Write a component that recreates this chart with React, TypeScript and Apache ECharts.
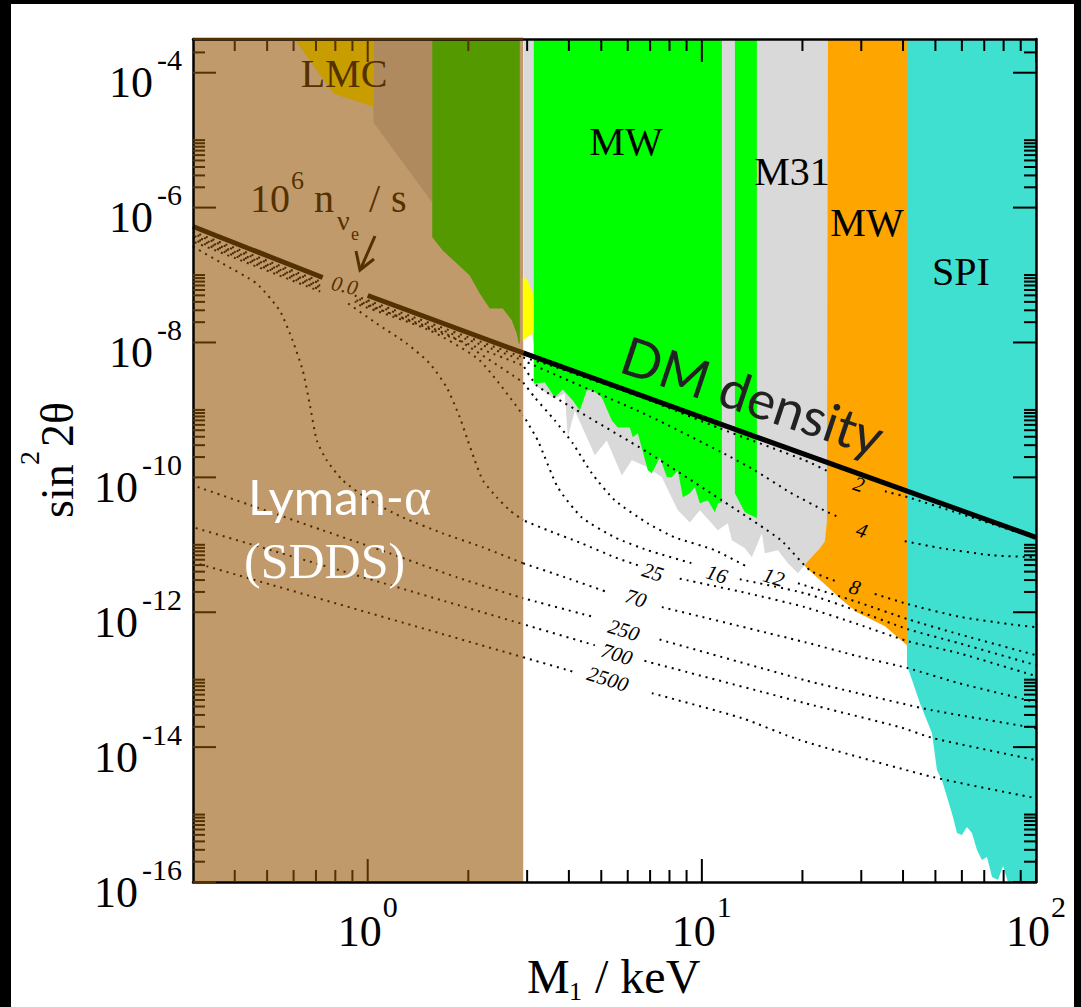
import React, { useEffect, useRef } from "react";
import * as echarts from "echarts";

const SERIF = '"Liberation Serif", "Times New Roman", serif';
const SANS = 'Lato, "Open Sans", sans-serif';

const BROWN = "#543100";
const DOT_BROWN = "#4a2a00";
const C_TAN = "#c19a6b";
const C_TAN_DARK = "#b08a5f";
const C_GOLD = "#c79d00";
const C_OLIVE = "#559900";
const C_YELLOW = "#ffff00";
const C_LIME = "#00ff00";
const C_GREY = "#d9d9d9";
const C_ORANGE = "#ffa500";
const C_TURQ = "#40e0d0";

// axis ranges (M1 in keV, sin^2 2theta)
const X_RANGE = [0.3, 100];
const Y_RANGE = [1e-16, 3.162e-4];
const LYA_EDGE = 2.92;

const X_LABEL_EXPONENTS = [0, 1, 2];
const Y_LABEL_EXPONENTS = [-16, -14, -12, -10, -8, -6, -4];
const X_MAJOR_TICKS = [1, 10, 100];
const X_MINOR_TICKS = [0.4, 0.5, 0.6, 0.7, 0.8, 0.9, 2, 3, 4, 5, 6, 7, 8, 9, 20, 30, 40, 50, 60, 70, 80, 90];
const Y_MAJOR_TICKS = [1e-16, 1e-14, 1e-12, 1e-10, 1e-8, 1e-6, 1e-4];
const Y_MINOR_FACTORS = [2, 3, 4, 5, 6, 7, 8, 9, 10];

// excluded / constrained regions: [M1 keV, sin^2 2theta]
const LYA_REGION = [[0.3, 1e-16], [2.92, 1e-16], [2.92, 3.162e-4], [0.3, 3.162e-4]];
const LYA_DARK_REGION = [[1.04, 3.162e-4], [1.56, 3.162e-4], [1.56, 1.19e-6], [1.04, 1.82e-5]];
const LMC_REGION = [[0.604, 3.162e-4], [1.04, 3.162e-4], [1.04, 3.13e-5], [0.791, 4.89e-5]];
const OLIVE_REGION = [
  [1.56, 3.162e-4], [2.852, 3.162e-4], [2.852, 9.66e-9], [2.832, 9.66e-9], [2.793, 1.36e-8],
  [2.699, 2.12e-8], [2.537, 3.19e-8], [2.319, 3.19e-8], [2.164, 5.32e-8], [2.02, 9.84e-8],
  [1.848, 1.48e-7], [1.677, 2.31e-7], [1.56, 3.63e-7],
];
const YELLOW_REGION = [[2.911, 8.87e-8], [2.992, 8.87e-8], [3.141, 4.97e-8], [3.141, 1.41e-8], [2.911, 1.07e-8]];
const GREY_REGION = [
  [2.93, 3.162e-4], [2.93, 8.87e-8], [3.141, 9.04e-9], [3.141, 2.39e-9], [3.63, 1.48e-9],
  [3.889, 1.75e-9], [3.97, 3.92e-10], [4.167, 9.84e-10], [4.782, 2.12e-10], [5.195, 3.53e-10],
  [5.761, 1.07e-10], [6.172, 1.79e-10], [6.892, 1.41e-10], [7.591, 1.0e-10], [8.476, 3.24e-11],
  [9.207, 2.15e-11], [9.863, 3.24e-11], [11.17, 1.64e-11], [11.96, 2.08e-11], [12.3, 1.17e-11],
  [13.45, 8.87e-12], [14.11, 6.53e-12], [15.12, 1.48e-11], [15.44, 7.48e-12], [16.89, 8.3e-12],
  [18.09, 5.32e-12], [19.39, 3.79e-12], [20.63, 5.51e-12], [22.56, 8.87e-12], [23.35, 1.13e-11],
  [23.67, 2.23e-11], [23.84, 3.162e-4],
];
const MW_REGION_A = [
  [3.141, 3.162e-4], [3.141, 2.47e-9], [3.388, 2.55e-9], [3.63, 1.53e-9], [3.835, 2.01e-9],
  [4.11, 1.38e-9], [4.313, 9.84e-10], [4.525, 1.95e-9], [4.717, 1.95e-9], [5.02, 1.53e-9],
  [5.377, 6.98e-10], [5.605, 5.51e-10], [6.087, 5.51e-10], [6.214, 3.92e-10], [6.432, 4.49e-10],
  [6.892, 1.27e-10], [7.085, 1.15e-10], [7.487, 1.98e-10], [7.856, 1.0e-10], [8.132, 1.0e-10],
  [8.476, 1.27e-10], [8.772, 5.06e-11], [9.207, 5.79e-11], [9.528, 7.11e-11], [9.863, 4.12e-11],
  [10.42, 4.56e-11], [10.94, 3.03e-11], [11.17, 4.12e-11], [11.48, 4.27e-11], [11.48, 3.162e-4],
];
const MW_REGION_B = [[12.56, 3.162e-4], [12.56, 5.79e-11], [13.45, 3.03e-11], [14.61, 2.47e-11], [14.61, 3.162e-4]];
const MW_ORANGE_REGION = [
  [15.12, 3.162e-4], [41.1, 3.162e-4], [41.1, 3.24e-13], [35.31, 6.21e-13], [29.12, 1.0e-12],
  [26.08, 1.56e-12], [23.51, 2.51e-12], [20.63, 4.49e-12], [18.34, 8.3e-12], [15.12, 1.64e-11],
];
const SPI_REGION = [
  [41.1, 3.162e-4], [100, 3.162e-4], [100, 1e-16], [82.45, 1e-16], [79.67, 1.73e-16],
  [76.96, 1.07e-16], [73.85, 1.19e-16], [71.34, 2.34e-16], [68.92, 2.12e-16], [66.58, 2.98e-16],
  [64.31, 5.32e-16], [62.13, 6.53e-16], [60.0, 4.97e-16], [58.01, 5.32e-16], [56.43, 9.18e-16],
  [54.51, 1.64e-15], [52.31, 3.24e-15], [50.53, 4.56e-15], [48.83, 1.61e-14], [44.96, 4.49e-14],
  [41.1, 1.64e-13],
];

// DM density line (null = gap for the "0.0" label)
const DM_LINE = [[0.3, 5.24e-7], [0.733, 9.18e-8], null, [1.0, 4.97e-8], [2.92, 7.0e-9], [10, 7.74e-10], [100, 1.29e-11]];

// contours of constant lepton asymmetry 10^6 n_nue / s
const CURVE_2 = [[0.3, 4.4e-7], [0.721, 8.02e-8], null, [0.914, 4.97e-8], [2.92, 6.0e-9], [3.459, 4.72e-9], [6.988, 1.38e-9], [11.32, 5.32e-10], [20.34, 1.79e-10], [24.17, 1.19e-10], null, [35.31, 6.21e-11], [41.39, 5.06e-11], [58.83, 2.93e-11], [74.36, 2.01e-11], [100, 1.25e-11]];
const CURVE_4 = [[0.3, 4.12e-7], [0.721, 7.48e-8], null, [0.914, 4.65e-8], [2.92, 5.41e-9], [3.459, 3.72e-9], [6.892, 8.3e-10], [11.48, 2.34e-10], [14.41, 1.27e-10], [18.34, 6.0e-11], [23.19, 3.24e-11], [25.72, 2.55e-11], null, [39.16, 1.17e-11], [52.31, 8.87e-12], [74.36, 6.98e-12], [100, 6.53e-12]];
const CURVE_8 = [[0.3, 3.85e-7], [0.721, 6.98e-8], null, [0.914, 4.34e-8], [2.92, 4.56e-9], [3.206, 2.31e-9], [4.138, 1.05e-9], [6.892, 2.34e-10], [11.48, 4.56e-11], [17.24, 1.17e-11], [21.06, 4.19e-12], [25.72, 2.78e-12], null, [32.51, 1.91e-12], [41.39, 1.32e-12], [58.83, 8.6e-13], [83.6, 6.64e-13], [100, 6.0e-13]];
const CURVE_12 = [[0.3, 3.6e-7], [0.721, 6.53e-8], null, [0.914, 4.04e-8], [1.76, 1.27e-8], [2.92, 2.55e-9], [3.162, 1.53e-9], [3.63, 6.98e-10], [4.11, 3.19e-10], [4.685, 1.15e-10], [5.489, 4.56e-11], [6.892, 2.08e-11], [8.302, 1.29e-11], [10.94, 8.3e-12], [13.73, 4.65e-12], null, [19.39, 2.69e-12], [29.32, 1.41e-12], [41.39, 7.87e-13], [58.83, 4.72e-13], [100, 2.31e-13]];
const CURVE_16 = [[0.3, 3.36e-7], [0.721, 6.09e-8], null, [0.914, 3.79e-8], [1.533, 1.51e-8], [2.164, 5.41e-9], [2.92, 8.3e-10], [3.228, 3.53e-10], [3.706, 7.11e-11], [4.373, 2.55e-11], [5.489, 1.29e-11], [6.892, 8.3e-12], [9.335, 5.32e-12], null, [12.56, 3.19e-12], [20.34, 1.91e-12], [29.32, 1.04e-12], [41.39, 5.6e-13], [58.83, 3.48e-13], [100, 1.64e-13]];
const CURVE_25 = [[0.3, 3.13e-7], [0.721, 5.7e-8], null, [0.865, 3.92e-8], [1.064, 1.91e-8], [1.308, 9.66e-9], [1.533, 4.89e-9], [1.724, 2.15e-9], [1.886, 7.74e-10], [1.993, 3.53e-10], [2.091, 1.79e-10], [2.21, 9.04e-11], [2.434, 5.06e-11], [2.661, 3.24e-11], [2.92, 2.31e-11], [3.459, 1.64e-11], [4.373, 1.05e-11], [5.489, 6.53e-12], [6.432, 4.97e-12], null, [8.476, 3.19e-12], [13.73, 1.91e-12], [20.34, 1.19e-12], [29.32, 6.64e-13], [41.39, 3.72e-13], [58.83, 2.47e-13], [100, 1.13e-13]];
const CURVE_70 = [[0.3, 2.64e-7], [0.368, 1.48e-7], [0.465, 7.48e-8], [0.545, 2.98e-8], [0.596, 1.07e-8], [0.639, 3.85e-9], [0.67, 1.25e-9], [0.704, 3.53e-10], [0.754, 1.79e-10], [0.842, 9.04e-11], [1.014, 4.56e-11], [1.273, 2.55e-11], [1.677, 1.48e-11], [2.21, 9.18e-12], [2.92, 5.32e-12], [3.889, 3.3e-12], [5.231, 1.98e-12], null, [7.591, 1.19e-12], [20.34, 3.6e-13], [29.32, 2.23e-13], [41.39, 1.48e-13], [58.83, 8.87e-14], [100, 4.65e-14]];
const CURVE_250 = [[0.3, 7.6e-11], [0.465, 3.6e-11], [0.733, 1.64e-11], [1.164, 7.48e-12], [1.848, 3.3e-12], [2.92, 1.61e-12], [4.782, 8.43e-13], null, [7.233, 4.12e-13], [20.34, 9.84e-14], [29.32, 6.31e-14], [48.83, 3.53e-14], [100, 1.91e-14]];
const CURVE_700 = [[0.3, 1.82e-11], [2.92, 6.64e-13], [4.782, 3.24e-13], null, [6.612, 1.95e-13], [20.34, 4.49e-14], [39.16, 1.98e-14], [49.17, 1.36e-14], [100, 6.41e-15]];
const CURVE_2500 = [[0.3, 5.51e-12], [2.92, 2.15e-13], [4.167, 1.29e-13], null, [7.085, 6.31e-14], [13.18, 2.69e-14], [19.65, 1.27e-14], [49.17, 3.6e-15], [100, 1.75e-15]];

const CURVE_LABEL_TEXT = ["0.0", "2", "4", "8", "12", "16", "25", "70", "250", "700", "2500"];
const CURVE_LABEL_POS = [
  [0.853, 6.98e-8], [29.51, 7.87e-11], [30.13, 1.64e-11], [28.71, 2.34e-12], [16.43, 3.3e-12],
  [11.09, 3.66e-12], [7.134, 3.92e-12], [6.345, 1.61e-12], [5.842, 5.41e-13], [5.567, 2.39e-13],
  [5.231, 1.02e-13],
];

const lg = (v: number) => Math.log10(v);
const toLog = (pts: any[]) => pts.map((p) => [lg(p[0]), lg(p[1])]);
const XL = [lg(X_RANGE[0]), lg(X_RANGE[1])];
const YL = [lg(Y_RANGE[0]), lg(Y_RANGE[1])];

function regionSeries(name: string, pts: number[][], color: string) {
  const logPts = toLog(pts);
  return {
    type: "custom",
    name,
    coordinateSystem: "cartesian2d",
    silent: true,
    z: 2,
    data: logPts,
    renderItem: (params: any, api: any) => {
      if (params.dataIndex !== 0) return null;
      const points = logPts.map((p) => api.coord(p));
      return { type: "polygon", shape: { points }, style: { fill: color } };
    },
  };
}

function splitSegments(pts: any[]) {
  const segs: number[][][] = [];
  let cur: number[][] = [];
  pts.forEach((p) => {
    if (p === null) {
      if (cur.length) segs.push(cur);
      cur = [];
    } else cur.push(p);
  });
  if (cur.length) segs.push(cur);
  return segs;
}

function lineSeries(name: string, pts: number[][], color: string, width: number, dotted: boolean, z: number, offset: number) {
  return {
    type: "line",
    name,
    data: toLog(pts),
    showSymbol: false,
    symbol: "none",
    smooth: dotted ? 0.2 : false,
    silent: true,
    clip: true,
    z,
    lineStyle: { color, width, type: dotted ? [2, 5] : "solid", dashOffset: offset, cap: "butt" },
  };
}

function splitByEdge(name: string, pts: any[], tanColor: string, clearColor: string, width: number, dotted: boolean, z: number, offset = 0) {
  const out: any[] = [];
  splitSegments(pts).forEach((seg) => {
    const tan = seg.filter((p) => p[0] <= LYA_EDGE + 1e-9);
    const clear = seg.filter((p) => p[0] >= LYA_EDGE - 1e-9);
    if (tan.length > 1) out.push(lineSeries(name, tan, tanColor, width, dotted, z, offset));
    if (clear.length > 1) out.push(lineSeries(name, clear, clearColor, width, dotted, z, offset));
  });
  return out;
}

function gtext(text: string, x: number, y: number, size: number, fill: string, extra: any = {}) {
  return {
    type: "text",
    x,
    y,
    z: 50,
    silent: true,
    style: {
      text,
      fontFamily: "Liberation Serif, Times New Roman, serif",
      fontSize: size,
      fill,
      align: "left",
      verticalAlign: "middle",
      ...extra,
    },
  };
}

const BASE_FONT = 44;
const SUP_FONT = 30;

function buildOption() {
  const series: any[] = [];
  series.push(regionSeries("Lyman-α (SDSS)", LYA_REGION, C_TAN));
  series.push(regionSeries("Lyman-α dark", LYA_DARK_REGION, C_TAN_DARK));
  series.push(regionSeries("LMC", LMC_REGION, C_GOLD));
  series.push(regionSeries("MW olive", OLIVE_REGION, C_OLIVE));
  series.push(regionSeries("MW orange", MW_ORANGE_REGION, C_ORANGE));
  series.push(regionSeries("M31", GREY_REGION, C_GREY));
  series.push(regionSeries("yellow", YELLOW_REGION, C_YELLOW));
  series.push(regionSeries("MW", MW_REGION_A, C_LIME));
  series.push(regionSeries("MW b", MW_REGION_B, C_LIME));
  series.push(regionSeries("SPI", SPI_REGION, C_TURQ));

  const curves: [string, any[]][] = [
    ["2", CURVE_2], ["4", CURVE_4], ["8", CURVE_8], ["12", CURVE_12], ["16", CURVE_16],
    ["25", CURVE_25], ["70", CURVE_70], ["250", CURVE_250], ["700", CURVE_700], ["2500", CURVE_2500],
  ];
  curves.forEach(([n, pts], i) =>
    series.push(...splitByEdge("n=" + n, pts, DOT_BROWN, "#000", 2, true, 5, (i * 2.3) % 7))
  );
  series.push(...splitByEdge("DM density", DM_LINE, BROWN, "#000", 5, false, 6));

  // curve labels
  const labelPos = toLog(CURVE_LABEL_POS);
  series.push({
    type: "custom",
    name: "curve labels",
    coordinateSystem: "cartesian2d",
    silent: true,
    z: 7,
    data: labelPos,
    renderItem: (params: any, api: any) => {
      const i = params.dataIndex;
      const c = api.coord(labelPos[i]);
      const first = i === 0;
      return {
        type: "text",
        x: c[0],
        y: c[1],
        rotation: first ? -0.22 : -0.3,
        style: {
          text: CURVE_LABEL_TEXT[i],
          font: `italic 21px ${SERIF}`,
          fill: first ? BROWN : "#000",
          align: "center",
          verticalAlign: "middle",
        },
      };
    },
  });

  // tick labels (10^n), placed through the axes' scales
  series.push({
    type: "custom",
    name: "x tick labels",
    coordinateSystem: "cartesian2d",
    silent: true,
    z: 21,
    data: X_LABEL_EXPONENTS.map((e) => [e, YL[0]]),
    renderItem: (params: any, api: any) => {
      const e = X_LABEL_EXPONENTS[params.dataIndex];
      const c = api.coord([e, YL[0]]);
      return {
        type: "group",
        children: [
          { type: "text", x: c[0] + 14, y: c[1] + 49, style: { text: "10", font: `${BASE_FONT}px ${SERIF}`, fill: "#000", align: "right", verticalAlign: "middle" } },
          { type: "text", x: c[0] + 15, y: c[1] + 24, style: { text: String(e), font: `${SUP_FONT}px ${SERIF}`, fill: "#000", align: "left", verticalAlign: "middle" } },
        ],
      };
    },
  });
  series.push({
    type: "custom",
    name: "y tick labels",
    coordinateSystem: "cartesian2d",
    silent: true,
    z: 21,
    data: Y_LABEL_EXPONENTS.map((e) => [XL[0], e]),
    renderItem: (params: any, api: any) => {
      const e = Y_LABEL_EXPONENTS[params.dataIndex];
      const c = api.coord([XL[0], e]);
      const supText = String(e);
      const supWidth = SUP_FONT * (0.333 + 0.5 * (supText.length - 1));
      const supRight = c[0] - 11;
      return {
        type: "group",
        children: [
          { type: "text", x: supRight - supWidth - 4, y: c[1] + 10, style: { text: "10", font: `${BASE_FONT}px ${SERIF}`, fill: "#000", align: "right", verticalAlign: "middle" } },
          { type: "text", x: supRight, y: c[1] - 13, style: { text: supText, font: `${SUP_FONT}px ${SERIF}`, fill: "#000", align: "right", verticalAlign: "middle" } },
        ],
      };
    },
  });

  // ticks
  const xTicks = [
    ...X_MAJOR_TICKS.map((v) => [lg(v), YL[0], 1]),
    ...X_MINOR_TICKS.map((v) => [lg(v), YL[0], 0]),
  ];
  series.push({
    type: "custom",
    name: "x ticks",
    coordinateSystem: "cartesian2d",
    silent: true,
    z: 20,
    data: xTicks,
    renderItem: (params: any, api: any) => {
      const t = xTicks[params.dataIndex];
      const b = api.coord([t[0], YL[0]]);
      const tp = api.coord([t[0], YL[1]]);
      const len = t[2] ? 23 : 12;
      const color = t[0] < lg(LYA_EDGE) ? BROWN : "#000";
      return {
        type: "group",
        children: [
          { type: "line", shape: { x1: b[0], y1: b[1], x2: b[0], y2: b[1] - len }, style: { stroke: color, lineWidth: 2 } },
          { type: "line", shape: { x1: tp[0], y1: tp[1], x2: tp[0], y2: tp[1] + len }, style: { stroke: color, lineWidth: 2 } },
        ],
      };
    },
  });
  const yTicks: number[][] = [];
  Y_MAJOR_TICKS.forEach((v) => {
    yTicks.push([XL[0], lg(v), 1]);
    Y_MINOR_FACTORS.forEach((f) => {
      const l = lg(v * f);
      if (l < YL[1] - 0.05) yTicks.push([XL[0], l, 0]);
    });
  });
  series.push({
    type: "custom",
    name: "y ticks",
    coordinateSystem: "cartesian2d",
    silent: true,
    z: 20,
    data: yTicks,
    renderItem: (params: any, api: any) => {
      const t = yTicks[params.dataIndex];
      const l = api.coord([XL[0], t[1]]);
      const r = api.coord([XL[1], t[1]]);
      const len = t[2] ? 23 : 12;
      return {
        type: "group",
        children: [
          { type: "line", shape: { x1: l[0], y1: l[1], x2: l[0] + len, y2: l[1] }, style: { stroke: BROWN, lineWidth: 2 } },
          { type: "line", shape: { x1: r[0], y1: r[1], x2: r[0] - len, y2: r[1] }, style: { stroke: "#000", lineWidth: 2 } },
        ],
      };
    },
  });
  series.push({
    type: "custom",
    name: "top frame tan",
    coordinateSystem: "cartesian2d",
    silent: true,
    z: 19,
    data: [[XL[0], YL[1]]],
    renderItem: (params: any, api: any) => {
      const a = api.coord([XL[0], YL[1]]);
      const b = api.coord([lg(LYA_EDGE), YL[1]]);
      return { type: "line", shape: { x1: a[0], y1: a[1], x2: b[0], y2: b[1] }, style: { stroke: BROWN, lineWidth: 2.5 } };
    },
  });

  const axisLine = { show: true, onZero: false, lineStyle: { color: "#000", width: 2.5 } };
  const common = { type: "value", axisTick: { show: false }, splitLine: { show: false }, axisLabel: { show: false }, z: 15 };

  return {
    animation: false,
    backgroundColor: "#fff",
    grid: { left: 193, right: 45, top: 39, bottom: 125, containLabel: false },
    xAxis: [
      { ...common, min: XL[0], max: XL[1], position: "bottom", axisLine },
      { ...common, min: XL[0], max: XL[1], position: "top", axisLine },
    ],
    yAxis: [
      { ...common, min: YL[0], max: YL[1], interval: 2, position: "left", axisLine },
      { ...common, min: YL[0], max: YL[1], interval: 2, position: "right", axisLine },
    ],
    series,
    graphic: [
      { type: "rect", z: 60, silent: true, shape: { x: 0, y: 0, width: 11, height: 1007 }, style: { fill: "#000" } },
      { type: "rect", z: 60, silent: true, shape: { x: 0, y: 0, width: 1081, height: 4 }, style: { fill: "#000" } },
      { type: "rect", z: 60, silent: true, shape: { x: 1074, y: 0, width: 7, height: 1007 }, style: { fill: "#000" } },

      gtext("LMC", 344, 73.5, 40, BROWN, { align: "center" }),
      gtext("MW", 626, 141, 40, "#000", { align: "center" }),
      gtext("M31", 792, 171.5, 40, "#000", { align: "center" }),
      gtext("MW", 867, 222, 40, "#000", { align: "center" }),
      gtext("SPI", 961, 271.5, 40, "#000", { align: "center" }),

      {
        type: "text", x: 248, y: 496, z: 50, silent: true,
        style: {
          text: "{a|Lyman-}{g|α}", align: "left", verticalAlign: "middle",
          rich: {
            a: { fontFamily: SANS, fontSize: 49, fill: "#fff", color: "#fff" },
            g: { fontFamily: "Liberation Serif", fontSize: 52, fill: "#fff", color: "#fff" },
          },
        },
      },
      gtext("(SDDS)", 244, 561, 50, "#ffffff", { fontStyle: "normal", fontWeight: "normal" }),
      {
        type: "text", x: 753, y: 395, z: 50, silent: true, rotation: -0.32,
        style: { text: "DM density", fontFamily: SANS, fontSize: 53, fill: "#222", align: "center", verticalAlign: "middle" },
      },

      gtext("10", 250, 198.5, 40, BROWN),
      gtext("6", 291, 180.5, 26, BROWN),
      gtext("n", 314, 198.5, 40, BROWN),
      gtext("ν", 337, 220.5, 28, BROWN),
      gtext("e", 351, 234, 18, BROWN),
      gtext("/", 369, 198.5, 40, BROWN),
      gtext("s", 391, 198.5, 40, BROWN),
      { type: "polyline", z: 50, silent: true, shape: { points: [[375, 236], [361, 268]] }, style: { stroke: BROWN, lineWidth: 3, fill: null } },
      { type: "polyline", z: 50, silent: true, shape: { points: [[356, 251], [360, 270], [374, 259]] }, style: { stroke: BROWN, lineWidth: 3, fill: null } },

      gtext("M", 527, 976, 48, "#000"),
      gtext("1", 569, 991, 26, "#000"),
      gtext("/ keV", 595, 976, 48, "#000"),
      {
        type: "group", x: 57, y: 460, rotation: Math.PI / 2, z: 50,
        children: [
          gtext("sin", -58, 0, 46, "#000"),
          gtext("2", -5, -28, 28, "#000"),
          gtext("2θ", 13, 0, 46, "#000"),
        ],
      },
    ],
  };
}

export default function App() {
  const ref = useRef<HTMLDivElement>(null);
  useEffect(() => {
    if (!ref.current) return;
    const chart = echarts.init(ref.current, undefined, { renderer: "svg" });
    chart.setOption(buildOption() as any);
    return () => chart.dispose();
  }, []);
  return (
    <div
      ref={ref}
      style={{ position: "absolute", left: 0, top: 0, width: 1081, height: 1007, background: "#fff" }}
    />
  );
}
